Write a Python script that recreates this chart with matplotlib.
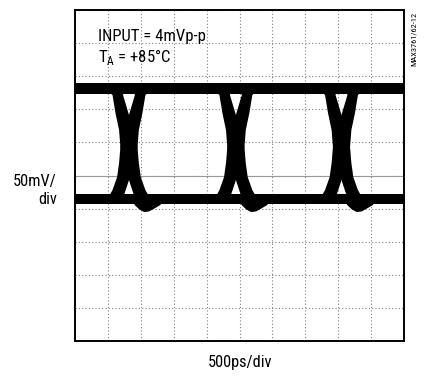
import matplotlib
matplotlib.use("Agg")
import matplotlib.pyplot as plt
from matplotlib import font_manager

W, H, DPI = 429, 377, 100

# ---------------- data (oscilloscope divisions) ----------------
n_div_x = 10
n_div_y = 10
high_level = 7.62          # centre of the logic-high rail
low_level = 4.29           # centre of the logic-low rail
rail_thickness = 0.32
crossings = [1.64, 4.89, 8.10]     # eye crossing centres
# outline of a falling-edge trace band: (level, offset from crossing centre)
stroke_left_y = [7.64, 7.43, 6.89, 6.37, 5.86, 5.38, 4.86, 4.41, 4.26]
stroke_left_x = [-0.73, -0.50, -0.41, -0.30, -0.26, -0.15, 0.00, 0.15, 0.18]
stroke_right_y = [4.20, 4.35, 4.56, 4.95, 5.38, 5.86, 6.37, 6.83, 7.43, 7.64]
stroke_right_x = [0.70, 0.62, 0.50, 0.36, 0.30, 0.26, 0.15, 0.00, -0.18, -0.15]
# undershoot below the low rail after each crossing
bump_x = [0.15, 0.30, 0.45, 0.60, 0.78, 0.95]
bump_depth = [0.0, 0.14, 0.22, 0.20, 0.10, 0.0]

# ---------------- fonts ----------------
names = {f.name for f in font_manager.fontManager.ttflist}
fam = "Roboto Condensed" if "Roboto Condensed" in names else "DejaVu Sans"
plt.rcParams["font.family"] = [fam, "DejaVu Sans"]
plt.rcParams["mathtext.fontset"] = "custom"
plt.rcParams["mathtext.rm"] = fam

fig = plt.figure(figsize=(W / DPI, H / DPI), dpi=DPI)
ax = fig.add_axes([75 / W, 1 - 341 / H, 329 / W, 331 / H])
ax.set_xlim(0, n_div_x)
ax.set_ylim(0, n_div_y)

# grid
ax.set_xticks(range(n_div_x + 1))
ax.set_yticks(range(n_div_y + 1))
ax.tick_params(length=0, labelbottom=False, labelleft=False)
ax.grid(True, linestyle=(0, (1, 2)), color="#808080", linewidth=0.8, zorder=0)
ax.set_axisbelow(True)
ax.axhline(n_div_y / 2, color="#999999", linewidth=0.8, zorder=1)

# rails
half = rail_thickness / 2
ax.fill_between([0, n_div_x], high_level - half, high_level + half, color="black", lw=0, zorder=2)
ax.fill_between([0, n_div_x], low_level - half, low_level + half, color="black", lw=0, zorder=2)

# transitions
for xc in crossings:
    fx = [xc + v for v in stroke_left_x] + [xc + v for v in stroke_right_x]
    fy = stroke_left_y + stroke_right_y
    ax.fill(fx, fy, color="black", lw=0, zorder=2)
    rx = [xc - v for v in stroke_left_x] + [xc - v for v in stroke_right_x]
    ax.fill(rx, fy, color="black", lw=0, zorder=2)
    bx = [xc + v for v in bump_x]
    lower = [low_level - half - d for d in bump_depth]
    ax.fill_between(bx, lower, [low_level] * len(bx), color="black", lw=0, zorder=2)

for s in ax.spines.values():
    s.set_linewidth(1.4)
    s.set_color("black")

# texts
fs = 12
fs_ax = 11.8
fig.text(98 / W, 1 - 41 / H, "INPUT = 4mVp-p", fontsize=fs, ha="left", va="baseline")
fig.text(98 / W, 1 - 62 / H, r"T$_\mathregular{A}$ = +85°C", fontsize=fs, ha="left", va="baseline")
fig.text(57 / W, 1 - 186 / H, "50mV/", fontsize=fs_ax, ha="right", va="baseline")
fig.text(57 / W, 1 - 204 / H, "div", fontsize=fs_ax, ha="right", va="baseline")
fig.text(240 / W, 1 - 367 / H, "500ps/div", fontsize=fs_ax, ha="center", va="baseline")
fig.text(414 / W, 1 - 39 / H, "MAX3761/62-12", fontsize=6, rotation=90, ha="center", va="center")

fig.savefig("out.png", dpi=DPI)
